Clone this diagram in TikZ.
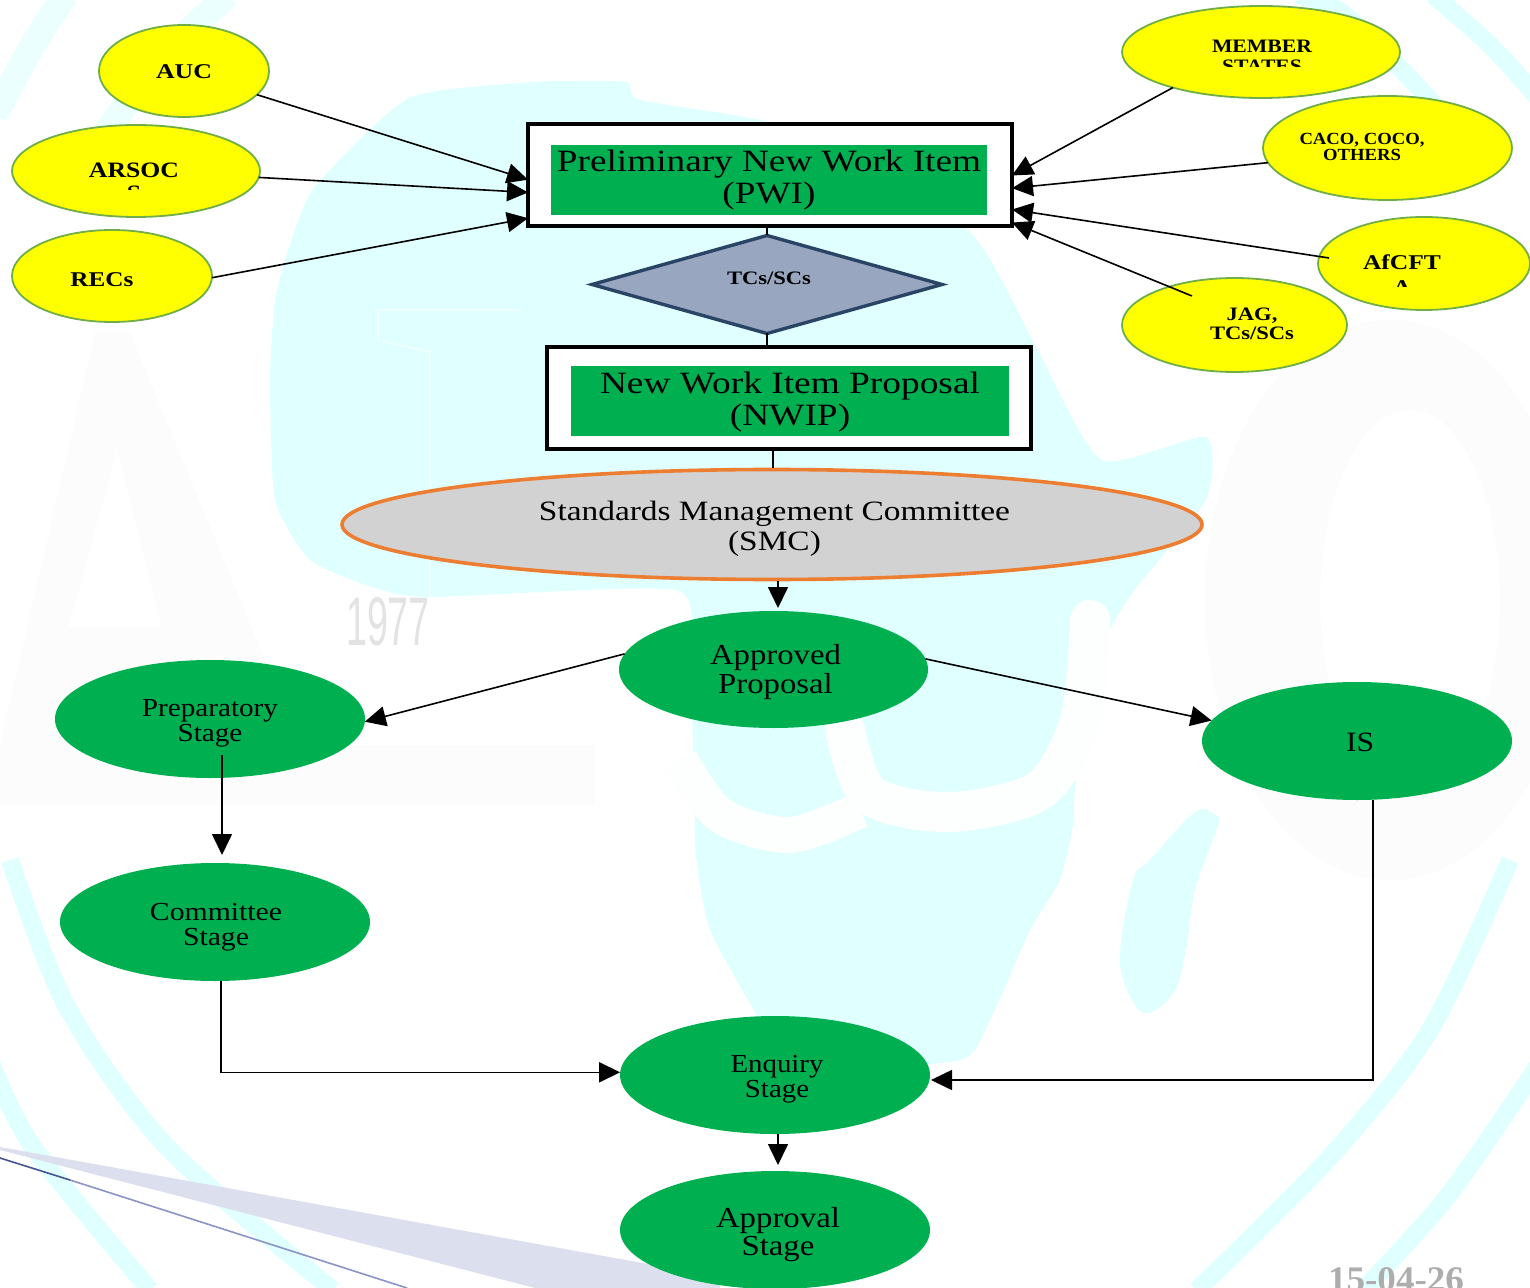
\documentclass[tikz,border=0pt]{standalone}
\usepackage{fontspec}
\usepackage{graphicx}
\setmainfont{Liberation Serif}
\newfontfamily\wmfont{Liberation Sans}
\usetikzlibrary{shapes.geometric,arrows.meta}
\definecolor{wm}{HTML}{E0FFFF}
\definecolor{wmline}{HTML}{EFFFFB}
\definecolor{wmgrey}{HTML}{FCFCFC}
\definecolor{wmwhite}{HTML}{FDFEFE}
\definecolor{gfill}{HTML}{00B050}
\definecolor{yfill}{RGB}{255,255,0}
\definecolor{yline}{HTML}{70AD47}
\definecolor{dfill}{HTML}{98A6BF}
\definecolor{dline}{HTML}{2A4466}
\definecolor{sfill}{HTML}{D2D2D2}
\definecolor{sline}{HTML}{ED7D31}
\definecolor{wedgec}{HTML}{DCE0EE}
\definecolor{thinl}{HTML}{8A94C6}
\definecolor{thind}{HTML}{465493}
% [#1 drop], #2 target width, #3 font size (pt), #4 line pitch (pt), #5 lines
\newcommand{\fitl}[5][-1.6pt]{\raisebox{#1}[\height][\depth]{\resizebox{#2pt}{\height}{\fontsize{#3}{#4}\selectfont\begin{tabular}{@{}c@{}}#5\end{tabular}}}}
\tikzset{
  yell/.style={ellipse,draw=yline,line width=.9pt,fill=yfill,inner sep=0pt,outer sep=0pt},
  gell/.style={ellipse,fill=gfill,inner sep=0pt,outer sep=0pt},
  outerbox/.style={rectangle,draw=black,line width=2pt,fill=white,inner sep=0pt,outer sep=0pt,minimum width=242pt,minimum height=51pt},
  greenbox/.style={rectangle,fill=gfill,inner sep=0pt,outer sep=0pt,minimum width=218pt,minimum height=35pt},
  conn/.style={draw=black,line width=.8pt},
  arr/.style={conn,-{Triangle[length=10.5pt,width=10pt]}},
  arcb/.style={wm,line width=9pt,line cap=butt},
  arct/.style={wm,line width=13pt,line cap=butt,opacity=.6},
  plain/.style={inner sep=0pt,outer sep=0pt}
}
\begin{document}
\begin{tikzpicture}[x=.5pt,y=-.5pt]
\useasboundingbox (0,0) rectangle (1530,1288);
\begin{scope}
\clip (0,0) rectangle (1530,1288);
\fill[white] (0,0) rectangle (1530,1288);
% watermark: faint letter forms on the page
\fill[wmgrey] (0,745) rectangle (595,805);
\fill[wmgrey] (0,745) -- (95,333) -- (130,333) -- (300,745) -- cycle;
\fill[white] (69,627) -- (117,450) -- (162,627) -- cycle;
\fill[wmgrey] (1390,600) ellipse (185 and 280);
\fill[white] (1410,600) ellipse (90 and 190);
% watermark: arcs
\draw[arcb] plot[smooth] coordinates {(10,860) (67,1007) (167,1147) (333,1290)};
\draw[arcb] plot[smooth] coordinates {(-10,1060) (33,1147) (150,1290)};
\draw[arcb] plot[smooth] coordinates {(1510,860) (1430,1030) (1330,1157) (1197,1290)};
\draw[arcb] plot[smooth] coordinates {(1540,1063) (1447,1197) (1363,1290)};
\draw[arct] plot[smooth] coordinates {(228,-5) (170,50) (120,113) (60,200)};
\draw[arct] plot[smooth] coordinates {(65,-5) (30,50) (-5,115)};
\draw[arcb] plot[smooth] coordinates {(1433,-5) (1490,45) (1540,100)};
\draw[arcb] plot[smooth] coordinates {(1297,-5) (1345,15) (1430,100) (1455,140)};
% watermark: continent
\fill[wm] plot[smooth cycle,tension=.35] coordinates {
 (270,380) (275,300) (288,251) (314,188) (409,98) (537,82) (626,82) (640,100) (800,130) (968,230)
 (1034,343) (1101,460) (1206,437) (1206,500) (1132,593) (1105,640) (1085,720) (1075,790)
 (1073,825) (1060,880) (1030,930) (990,1020) (960,1060) (800,1070) (760,1020) (710,930) (696,857) (694,790)
 (690,660) (676,590) (430,597) (372,587) (310,560) (275,500)};
\fill[wm] plot[smooth cycle,tension=.6] coordinates {
 (1120,960) (1133,880) (1150,860) (1195,812) (1215,815) (1218,825) (1195,890) (1186,950) (1175,990) (1152,1012) (1135,1005)};
% watermark: letter forms that lie over the continent
\draw[wmwhite,line width=20pt,line cap=round] plot[smooth] coordinates {(1090,620) (1080,720) (1040,790) (950,812) (870,795) (845,730)};
\draw[wmwhite,line width=18pt,line cap=butt] plot[smooth] coordinates {(680,760) (720,815) (790,835) (860,810)};
\draw[wmline,line width=.8pt] (430,597) -- (430,352) -- (378,340) -- (378,310) -- (520,310);
\node[plain,text=black!11,anchor=center] (wmyear) at (388,622) {\resizebox{42pt}{24pt}{\wmfont\fontsize{20}{22}\selectfont 1977}};
% slide decoration
\fill[wedgec] (0,1147) -- (720,1277) -- (720,1290) -- (543,1290) -- (0,1150) -- cycle;
\draw[thind,line width=.8pt] (0,1158) -- (70,1180);
\draw[thinl,line width=.8pt] (70,1180) -- (407,1288);
\node[plain,text=black!32,anchor=base] (date) at (1396,1291) {\resizebox{68pt}{\height}{\fontsize{18}{20}\selectfont\bfseries 15-04-26}};

% yellow ellipses
\node[yell,minimum width=85pt,minimum height=46pt] (auc) at (184,71) {\fitl{28}{10.5}{12}{\bfseries AUC}};
\node[yell,minimum width=124pt,minimum height=46pt] (arsoc) at (136,171) {};
\node[yell,minimum width=100pt,minimum height=46pt] (recs) at (112,276) {};
\node[yell,minimum width=139pt,minimum height=46pt] (member) at (1261,52) {};
\node[yell,minimum width=124.5pt,minimum height=52pt] (caco) at (1387.5,148) {};
\node[yell,minimum width=106pt,minimum height=46.5pt] (afcfta) at (1424,263.5) {};
\node[yell,minimum width=112.5pt,minimum height=47pt] (jag) at (1234.5,325) {};
\node[plain] (trecs) at (102,279) {\fitl{31.5}{10.5}{12}{\bfseries RECs}};
\node[plain] (tcaco) at (1362,146) {\fitl{62.5}{8.5}{8}{\bfseries CACO, COCO,\\\bfseries OTHERS}};
\node[plain] (tjag) at (1252,323) {\fitl{42}{9.5}{9.5}{\bfseries JAG,\\\bfseries TCs/SCs}};
\begin{scope}
 \clip (60,150) rectangle (200,190);
 \node[plain] (tarsoc) at (134,181.3) {\fitl{45}{11}{11.5}{\bfseries ARSOC\\\bfseries S}};
\end{scope}
\begin{scope}
 \clip (1190,30) rectangle (1330,67);
 \node[plain] (tmember) at (1262,55.8) {\fitl{50}{9.5}{10}{\bfseries MEMBER\\\bfseries STATES}};
\end{scope}
\begin{scope}
 \clip (1350,245) rectangle (1450,287);
 \node[plain] (tafcfta) at (1402,274.3) {\fitl{39}{10.5}{12.5}{\bfseries AfCFT\\\bfseries A}};
\end{scope}

% boxes
\node[outerbox] (pwi) at (770,175.5) {};
\node[greenbox] (pwig) at (769,180) {};
\node[plain] (tpwi) at (769,178) {\fitl{212}{15.5}{16}{Preliminary New Work Item\\(PWI)}};
\node[outerbox] (nwip) at (788.5,398) {};
\node[greenbox,minimum width=219pt] (nwipg) at (790,401.5) {};
\node[plain] (tnwip) at (790,400) {\fitl{190}{15.5}{16}{New Work Item Proposal\\(NWIP)}};
% diamond
\node[diamond,draw=dline,line width=1.7pt,fill=dfill,aspect=3.5,minimum width=175pt,minimum height=49pt,inner sep=0pt,outer sep=0pt] (dia) at (767,284.5) {};
\node[plain] (tdia) at (769,277) {\fitl{42}{9.5}{10}{\bfseries TCs/SCs}};
% SMC
\node[ellipse,draw=sline,line width=1.8pt,fill=sfill,inner sep=0pt,outer sep=0pt,minimum width=430pt,minimum height=55pt] (smc) at (772,524.5) {\kern2.5pt\fitl[-2.5pt]{235.5}{14}{15}{Standards Management Committee\\(SMC)}};
% green ellipses
\node[gell,minimum width=154.5pt,minimum height=58.5pt] (appr) at (773.5,669.5) {\kern2pt\fitl[-1.9pt]{65.5}{14.5}{14}{Approved\\Proposal}};
\node[gell,minimum width=155pt,minimum height=59pt] (prep) at (210,719) {\fitl[-2.6pt]{68}{13}{12.5}{Preparatory\\Stage}};
\node[gell,minimum width=155pt,minimum height=59pt] (is) at (1357,741) {\kern3pt\fitl[-2.5pt]{14}{14}{14}{IS}};
\node[gell,minimum width=155pt,minimum height=59pt] (comm) at (215,922) {\kern1pt\fitl[-2.8pt]{66}{13}{12.5}{Committee\\Stage}};
\node[gell,minimum width=155pt,minimum height=59pt] (enq) at (775,1075) {\kern2pt\fitl[-2.6pt]{46.5}{13}{12.5}{Enquiry\\Stage}};
\node[gell,minimum width=155pt,minimum height=59pt] (appl) at (775,1230) {\kern3pt\fitl[-3pt]{62}{14.5}{14}{Approval\\Stage}};

% free ends that lie inside shapes
\coordinate (afstart) at (1329,258);
\coordinate (jagstart) at (1192,296);
\coordinate (prepstart) at (222,755);
\coordinate (prepend) at (222,855);
\coordinate (smcbot) at (778,581);
\coordinate (apprtop) at (778,608);
\coordinate (enqbot) at (778,1134);
\coordinate (appltop) at (778,1165);
\coordinate (smctop) at (773,468);
\coordinate (nwipbot) at (773,450);
\coordinate (enqright) at (931,1080);

% connectors
\draw[arr] (auc.-18) -- (pwi.181.5);
\draw[arr] (arsoc.-3.2) -- (pwi.184.1);
\draw[arr] (recs.-1) -- (pwi.190.8);
\draw[arr] (member.-158) -- (pwi.-0.6);
\draw[arr] (caco.-173.1) -- (pwi.-3.9);
\draw[arr] (afstart) -- (pwi.-8.05);
\draw[arr] (jagstart) -- (pwi.-11);
\draw[conn] (dia.north) -- (dia.north |- pwi.south);
\draw[conn] (nwip.north -| dia.south) -- (dia.south);
\draw[conn] (smctop) -- (nwipbot);
\draw[arr] (smcbot) -- (apprtop);
\draw[arr] (appr.174.9) -- (prep.-1.5);
\draw[arr] (appr.4.7) -- (is.172.5);
\draw[arr] (prepstart) -- (prepend);
\draw[arr] (comm.-84.2) |- (enq.179.3);
\draw[arr] (is.-75.7) |- (enqright);
\draw[arr] (enqbot) -- (appltop);
\end{scope}
\end{tikzpicture}
\end{document}
